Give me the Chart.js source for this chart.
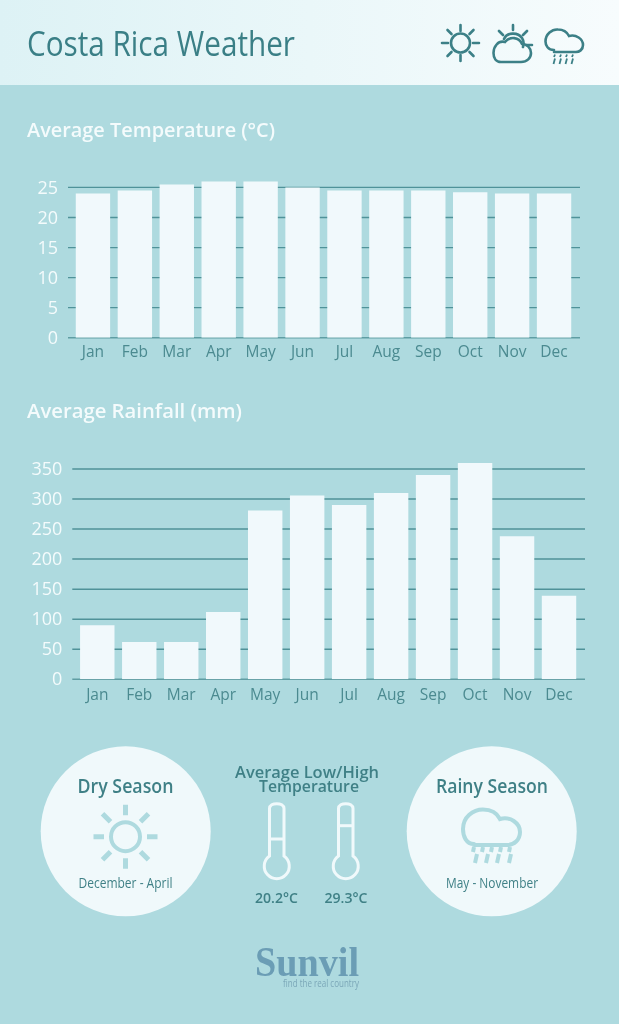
<!DOCTYPE html>
<html>
<head>
<meta charset="utf-8">
<title>Costa Rica Weather</title>
<script src="https://cdn.jsdelivr.net/npm/chart.js@4/dist/chart.umd.js"></script>
<style>
html, body { margin: 0; padding: 0; }
body { width: 619px; height: 1024px; background: #aedadf; position: relative; overflow: hidden; font-family: "Open Sans", sans-serif; }
.header { position: absolute; left: 0; top: 0; width: 619px; height: 85px; background: linear-gradient(90deg, #ddf2f5, #f7fcfd); }
canvas { position: absolute; left: 0; }
#tempChart { top: 150px; }
#rainChart { top: 430px; }
#overlay { position: absolute; left: 0; top: 0; }
</style>
</head>
<body>
<div class="header"></div>
<canvas id="tempChart" width="619" height="220"></canvas>
<canvas id="rainChart" width="619" height="280"></canvas>
<svg id="overlay" width="619" height="1024" xmlns="http://www.w3.org/2000/svg" font-family="Open Sans, sans-serif">
  <text x="27" y="56" font-size="35" fill="#3a7f86" textLength="268" lengthAdjust="spacingAndGlyphs">Costa Rica Weather</text>

  <!-- header icons -->
  <g stroke="#3c8087" stroke-width="2.6" fill="none" stroke-linecap="round">
    <circle cx="460.500" cy="43" r="9.500"/>
    <path d="M460.500 25V31M460.500 55V61M442 43H448M473 43H479M447.500 30L451.500 34M473.500 30L469.500 34M447.500 56L451.500 52M473.500 56L469.500 52"/>
    <path d="M513 25V30M499 31L503 35M527 31L523 35M526 45H532"/>
    <path d="M504 39C507 32 518 32 522 38C524 41 524 44 523 47"/>
    <path d="M501 62H521C527 62 531 58 531 53C531 48 527 44 522 44C519 37 510 36 505 42C498 40 493.500 47 493.500 53C493.500 58 496 62 501 62Z"/>
    <path d="M554 50C548 50 545.500 45.500 545.500 41.500C545.500 34 552 29 558 29.500C563 29.500 567 32 569 36C576 34 583 39 583 45C583 50 579 52 576 52H554"/>
    <path d="M555 54.500L554 57M561 54.500L560 57M567 54.500L566 57M573 54.500L572 57M555 58.500L553.500 64M561 58.500L559.500 64M567 58.500L565.500 64M573 58.500L571.500 64" stroke-width="1.800" stroke-linecap="butt"/>
  </g>

  <text x="27" y="137" font-size="20.500" font-weight="600" fill="#f4fbfc" textLength="248" lengthAdjust="spacingAndGlyphs">Average Temperature (°C)</text>
  <text x="27" y="418" font-size="20.500" font-weight="600" fill="#f4fbfc" textLength="215" lengthAdjust="spacingAndGlyphs">Average Rainfall (mm)</text>

  <!-- dry season -->
  <circle cx="125.700" cy="831.300" r="85" fill="#f0f9fb"/>
  <text x="125.500" y="793" font-size="19" font-weight="600" fill="#3f8086" text-anchor="middle" textLength="96" lengthAdjust="spacingAndGlyphs">Dry Season</text>
  <g stroke="#aedadf" stroke-width="4" fill="none" stroke-linecap="round">
    <circle cx="125.500" cy="836.700" r="14.500"/>
    <g transform="translate(125.500 836.700)">
      <path d="M0 -21.500V-32M0 21.500V32M-21.500 0H-32M21.500 0H32M-15 -15L-23 -23M15 -15L23 -23M-15 15L-23 23M15 15L23 23" stroke-width="5" stroke-linecap="butt"/>
    </g>
  </g>
  <text x="125.500" y="888" font-size="14" fill="#3f8086" text-anchor="middle" textLength="94" lengthAdjust="spacingAndGlyphs">December - April</text>

  <!-- low / high -->
  <text x="307" y="778" font-size="16" font-weight="600" fill="#3f8086" text-anchor="middle" textLength="144" lengthAdjust="spacingAndGlyphs">Average Low/High</text>
  <text x="309" y="792" font-size="16" font-weight="600" fill="#3f8086" text-anchor="middle" textLength="100" lengthAdjust="spacingAndGlyphs">Temperature</text>
  <g stroke="#f0f9fb" stroke-width="3" fill="none">
    <path d="M269.500 856V808.500C269.500 802 284 802 284 808.500V856A12.500 12.500 0 1 1 269.500 856Z"/>
    <path d="M269.500 839H284"/>
    <path d="M338.500 856V808.500C338.500 802 353 802 353 808.500V856A12.500 12.500 0 1 1 338.500 856Z"/>
    <path d="M338.500 825.700H353"/>
  </g>
  <text x="276.500" y="903" font-size="15" font-weight="600" fill="#3f8086" text-anchor="middle" textLength="43" lengthAdjust="spacingAndGlyphs">20.2°C</text>
  <text x="346" y="903" font-size="15" font-weight="600" fill="#3f8086" text-anchor="middle" textLength="43" lengthAdjust="spacingAndGlyphs">29.3°C</text>

  <!-- rainy season -->
  <circle cx="491.700" cy="831.300" r="85" fill="#f0f9fb"/>
  <text x="492" y="793" font-size="19" font-weight="600" fill="#3f8086" text-anchor="middle" textLength="112" lengthAdjust="spacingAndGlyphs">Rainy Season</text>
  <g stroke="#aedadf" stroke-width="4" fill="none" stroke-linecap="round">
    <path d="M474 844C466 844 463 836 463 829C463 817 473 809.500 483 809.500C491 809.500 497 813 500 819C510 816 520 823 520 832C520 840 514 845 507 845H474"/>
    <path d="M474 847L473 852M483 847L482 852M492 847L491 852M501 847L500 852M510 847L509 852M477 854L475 863M488 854L486 863M499 854L497 863M511 854L509 863" stroke-width="4" stroke-linecap="butt"/>
  </g>
  <text x="492" y="888" font-size="14" fill="#3f8086" text-anchor="middle" textLength="92" lengthAdjust="spacingAndGlyphs">May - November</text>

  <!-- logo -->
  <text x="255" y="976" font-family="Liberation Serif, serif" font-size="42" font-weight="700" fill="#6b9db5" textLength="104" lengthAdjust="spacingAndGlyphs">Sunvil</text>
  <text x="283" y="987" font-size="10.500" fill="#7ba7b8" textLength="76" lengthAdjust="spacingAndGlyphs">find the real country</text>
</svg>

<script>
const months = ["Jan", "Feb", "Mar", "Apr", "May", "Jun", "Jul", "Aug", "Sep", "Oct", "Nov", "Dec"];
const tempValues = [24, 24.5, 25.5, 26, 26, 25, 24.5, 24.5, 24.5, 24.2, 24, 24];
const rainValues = [90, 62, 62, 112, 281, 306, 290, 310, 340, 360, 238, 139];
const tempTicks = [0, 5, 10, 15, 20, 25];
const rainTicks = [0, 50, 100, 150, 200, 250, 300, 350];

// grid lines run a bit wider than the bars, so they are drawn by hand behind them
const wideGrid = {
    id: "wideGrid",
    beforeDatasetsDraw: (chart, args, opts) => {
        const ctx = chart.ctx;
        const yScale = chart.scales.y;
        ctx.save();
        yScale.ticks.forEach((tick) => {
            const y = yScale.getPixelForValue(tick.value);
            ctx.beginPath();
            ctx.moveTo(opts.from, y);
            ctx.lineTo(opts.to, y);
            ctx.lineWidth = tick.value === 0 ? 1.6 : opts.width;
            ctx.strokeStyle = tick.value === 0 ? "#5f9da3" : "#4f9299";
            ctx.stroke();
        });
        ctx.restore();
    }
};

const drawBars = (id, values, ticks, yMax, step, cfg) => {
    return new Chart(document.getElementById(id), {
        type: "bar",
        data: {
            labels: months,
            datasets: [{
                data: values,
                backgroundColor: "#f1f9fc",
                borderWidth: 0,
                barPercentage: 1,
                categoryPercentage: 0.82
            }]
        },
        plugins: [wideGrid],
        options: {
            responsive: false,
            animation: false,
            layout: { autoPadding: false, padding: { top: cfg.top, right: cfg.right, left: 0, bottom: 0 } },
            plugins: {
                legend: { display: false },
                tooltip: { enabled: false },
                wideGrid: { from: cfg.from, to: cfg.to, width: cfg.width }
            },
            scales: {
                x: {
                    grid: { display: false, drawTicks: false },
                    border: { display: false },
                    afterFit: (scale) => { scale.height = cfg.xHeight; },
                    ticks: {
                        color: "#4b8a90",
                        padding: cfg.xPad,
                        maxRotation: 0,
                        font: { family: "Open Sans", size: 15.5 }
                    }
                },
                y: {
                    min: 0,
                    max: yMax,
                    grid: { display: false, drawTicks: false },
                    border: { display: false },
                    afterFit: (scale) => {
                        scale.width = cfg.left;
                        // tick padding also gets added above and below the axis otherwise
                        scale.paddingTop = 0;
                        scale.paddingBottom = 0;
                    },
                    afterBuildTicks: (scale) => {
                        scale.ticks = ticks.map((v) => ({ value: v }));
                    },
                    ticks: {
                        stepSize: step,
                        color: "#f4fbfc",
                        padding: cfg.tickPad,
                        labelOffset: 1,
                        font: { family: "Open Sans", size: 18 }
                    }
                }
            }
        }
    });
};

drawBars("tempChart", tempValues, tempTicks, 30, 5, {
    top: 7.4, right: 44, left: 72, xHeight: 32.3, from: 68, to: 580, width: 1.3, tickPad: 14, xPad: 6
});
drawBars("rainChart", rainValues, rainTicks, 400, 50, {
    top: 8.9, right: 39, left: 76.3, xHeight: 30.7, from: 72.3, to: 585, width: 1.5, tickPad: 14, xPad: 7
});
</script>
</body>
</html>
